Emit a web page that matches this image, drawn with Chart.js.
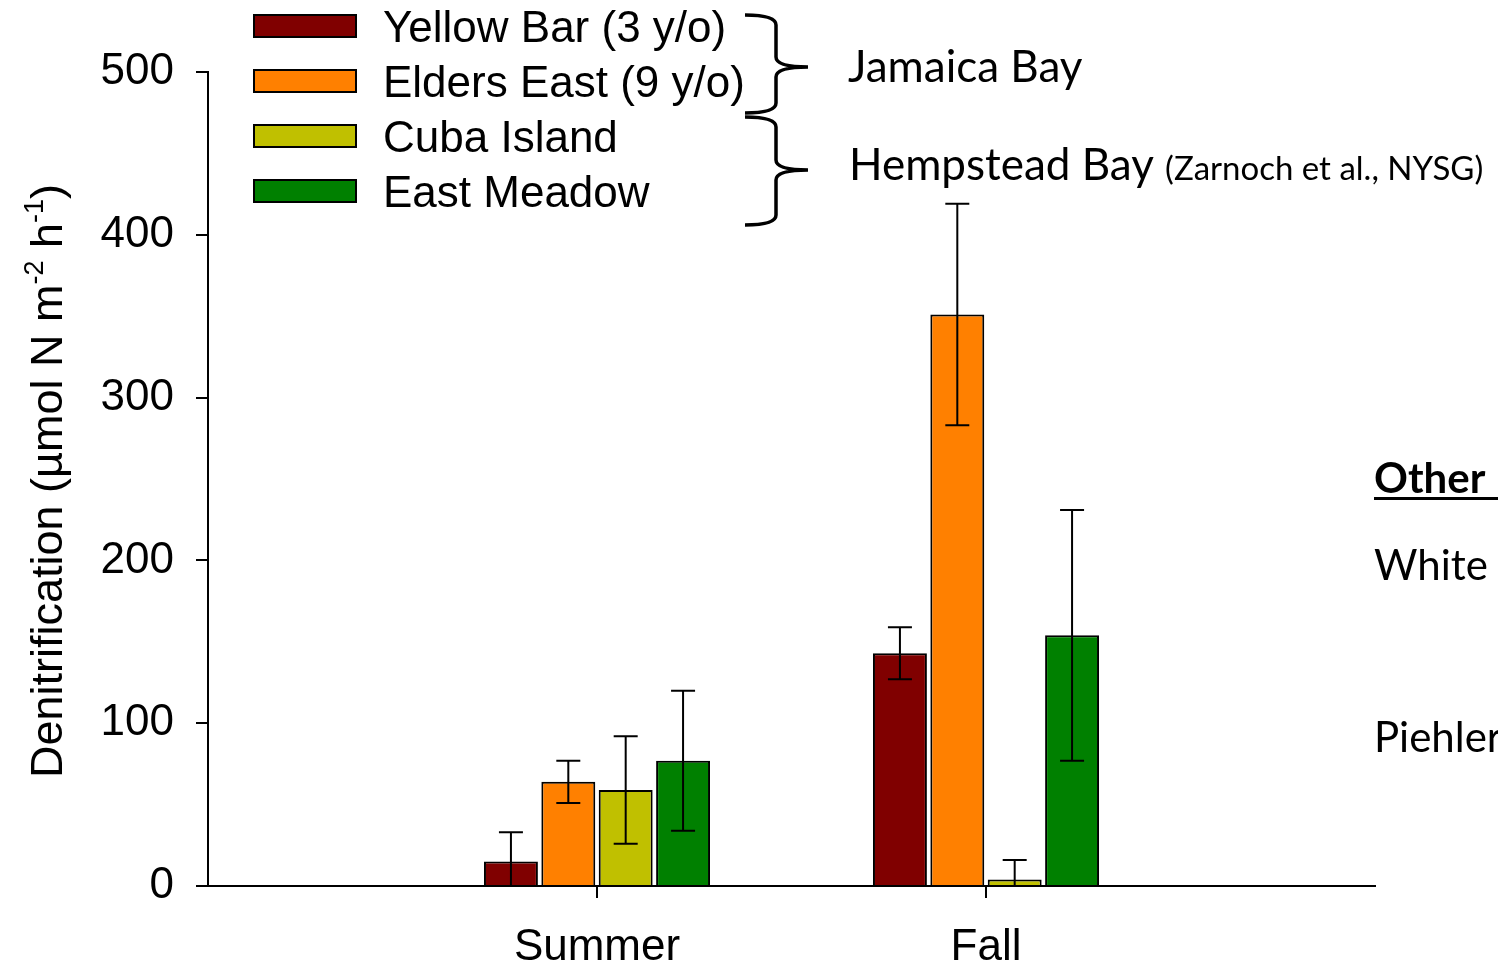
<!DOCTYPE html>
<html>
<head>
<meta charset="utf-8">
<script src="https://cdn.jsdelivr.net/npm/chart.js@4.4.0/dist/chart.umd.min.js"></script>
<style>
  html, body { margin: 0; padding: 0; background: #fff; overflow: hidden; }
  #grafica { display: block; }
</style>
</head>
<body>
<canvas id="grafica" width="1498" height="965"></canvas>
<script>
// categorias (las vacias dejan el espacio a los lados)
const categorias = ['', 'Summer', 'Fall', ''];
const sitios = ['Yellow Bar (3 y/o)', 'Elders East (9 y/o)', 'Cuba Island', 'East Meadow'];
const colores = ['#800000', '#ff8000', '#c0c000', '#008000'];

// medias y errores
const yellowBar = [null, 15, 143, null];
const yellowBarErr = [null, 18, 16, null];
const eldersEast = [null, 64, 351, null];
const eldersEastErr = [null, 13, 68, null];
const cubaIsland = [null, 59, 4, null];
const cubaIslandErr = [null, 33, 12, null];
const eastMeadow = [null, 77, 154, null];
const eastMeadowErr = [null, 43, 77, null];

const valores = [yellowBar, eldersEast, cubaIsland, eastMeadow];
const errores = [yellowBarErr, eldersEastErr, cubaIslandErr, eastMeadowErr];

const fuenteArial = '"Liberation Sans", Arial, sans-serif';
const fuenteCalibri = 'Lato, "Open Sans", sans-serif';

// barras de error
const barrasError = {
    id: 'barrasError',
    afterDatasetsDraw(chart) {
        const ctx = chart.ctx;
        const y = chart.scales.y;
        ctx.save();
        ctx.strokeStyle = '#000';
        ctx.lineWidth = 2;
        chart.data.datasets.forEach((ds, i) => {
            const meta = chart.getDatasetMeta(i);
            meta.data.forEach((bar, j) => {
                const v = ds.data[j];
                const e = errores[i][j];
                if (v == null || e == null) return;
                const yTop = y.getPixelForValue(v + e);
                const yBot = y.getPixelForValue(Math.max(0, v - e));
                ctx.beginPath();
                ctx.moveTo(bar.x, yTop);
                ctx.lineTo(bar.x, yBot);
                ctx.moveTo(bar.x - 12, yTop);
                ctx.lineTo(bar.x + 12, yTop);
                if (v - e > 0) {
                    ctx.moveTo(bar.x - 12, yBot);
                    ctx.lineTo(bar.x + 12, yBot);
                }
                ctx.stroke();
            });
        });
        ctx.restore();
    }
};

function llave(ctx, y1, y2, ym) {
    const x0 = 745, xm = 776, xt = 808, r = 10;
    ctx.beginPath();
    ctx.moveTo(x0, y1);
    ctx.quadraticCurveTo(xm, y1, xm, y1 + r);
    ctx.lineTo(xm, ym - r);
    ctx.quadraticCurveTo(xm, ym, xt, ym);
    ctx.moveTo(xt, ym);
    ctx.quadraticCurveTo(xm, ym, xm, ym + r);
    ctx.lineTo(xm, y2 - r);
    ctx.quadraticCurveTo(xm, y2, x0, y2);
    ctx.stroke();
}

// leyenda, titulo del eje y, llaves y textos
const anotaciones = {
    id: 'anotaciones',
    afterDraw(chart) {
        const ctx = chart.ctx;
        ctx.save();
        ctx.fillStyle = '#000';
        ctx.textBaseline = 'alphabetic';

        // leyenda
        sitios.forEach((s, i) => {
            const cy = 26 + i * 55;
            ctx.fillStyle = colores[i];
            ctx.fillRect(254, cy - 11, 102, 22);
            ctx.strokeStyle = '#000';
            ctx.lineWidth = 2;
            ctx.strokeRect(254, cy - 11, 102, 22);
            ctx.fillStyle = '#000';
            ctx.font = '44px ' + fuenteArial;
            ctx.textAlign = 'left';
            ctx.fillText(s, 383, cy + 16);
        });

        // llaves
        ctx.strokeStyle = '#000';
        ctx.lineWidth = 3.5;
        llave(ctx, 15, 113, 67);
        llave(ctx, 117, 225, 170);

        ctx.font = '44px ' + fuenteCalibri;
        ctx.fillText('Jamaica Bay', 848, 82);
        ctx.fillText('Hempstead Bay', 849, 180);
        const w = ctx.measureText('Hempstead Bay ').width;
        ctx.font = '33px ' + fuenteCalibri;
        ctx.fillText('(Zarnoch et al., NYSG)', 849 + w, 180);

        // textos de la derecha
        ctx.font = 'bold 42px ' + fuenteCalibri;
        ctx.fillText('Other', 1374, 493);
        const wo = ctx.measureText('Other ').width;
        ctx.fillRect(1374, 497, wo + 20, 3);
        ctx.font = '42px ' + fuenteCalibri;
        ctx.fillText('White', 1374, 580);
        ctx.fillText('Piehler', 1374, 752);

        // titulo eje y con superindices
        ctx.translate(62, 481);
        ctx.rotate(-Math.PI / 2);
        const partes = [
            ['Denitrification (\u00b5mol N m', 45, 0],
            ['-2', 27, -19],
            [' h', 45, 0],
            ['-1', 27, -19],
            [')', 45, 0]
        ];
        let total = 0;
        partes.forEach(p => { ctx.font = p[1] + 'px ' + fuenteArial; total += ctx.measureText(p[0]).width; });
        let x = -total / 2;
        ctx.textAlign = 'left';
        partes.forEach(p => {
            ctx.font = p[1] + 'px ' + fuenteArial;
            ctx.fillText(p[0], x, p[2]);
            x += ctx.measureText(p[0]).width;
        });
        ctx.restore();
    }
};

const $grafica = document.querySelector('#grafica');
new Chart($grafica, {
    type: 'bar',
    data: {
        labels: categorias,
        datasets: sitios.map((s, i) => ({
            label: s,
            data: valores[i],
            backgroundColor: colores[i],
            borderColor: '#000',
            borderWidth: 2,
            categoryPercentage: 0.59,
            barPercentage: 0.94
        }))
    },
    options: {
        responsive: false,
        animation: false,
        events: [],
        layout: { padding: { left: 0, top: 72, right: 123, bottom: 0 } },
        plugins: {
            legend: { display: false },
            tooltip: { enabled: false }
        },
        scales: {
            x: {
                offset: false,
                afterFit: s => { s.height = 79; },
                border: { display: true, color: '#000', width: 2 },
                grid: {
                    offset: false,
                    drawOnChartArea: false,
                    tickLength: 12,
                    lineWidth: 2,
                    color: c => (c.index === 1 || c.index === 2) ? '#000' : 'rgba(0,0,0,0)'
                },
                ticks: {
                    color: '#000',
                    font: { family: fuenteArial, size: 44 },
                    padding: 23,
                    maxRotation: 0,
                    autoSkip: false
                }
            },
            y: {
                min: 0,
                max: 500,
                afterFit: s => { s.width = 208; },
                border: { display: true, color: '#000', width: 2 },
                grid: {
                    drawOnChartArea: false,
                    tickLength: 12,
                    lineWidth: 2,
                    color: '#000'
                },
                ticks: {
                    stepSize: 100,
                    color: '#000',
                    font: { family: fuenteArial, size: 44 },
                    padding: 22
                }
            }
        }
    },
    plugins: [barrasError, anotaciones]
});
</script>
</body>
</html>
